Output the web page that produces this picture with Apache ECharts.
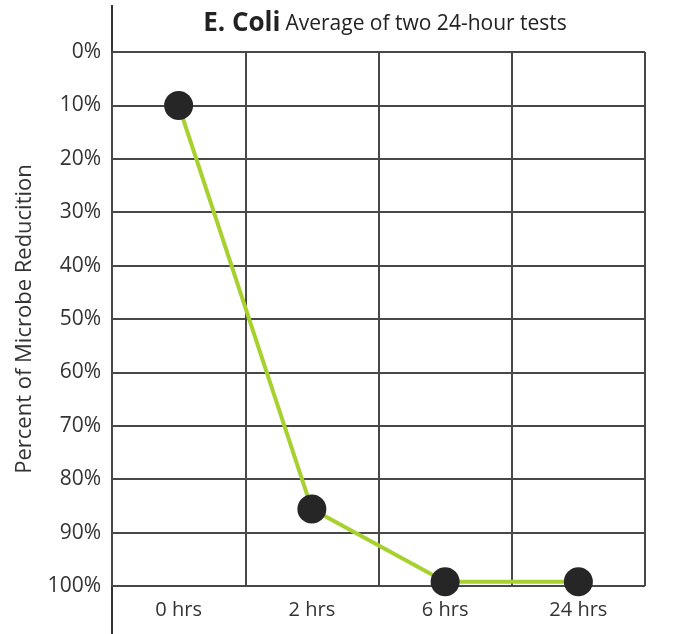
<!DOCTYPE html>
<html><head><meta charset="utf-8">
<script src="https://cdn.jsdelivr.net/npm/echarts@6/dist/echarts.min.js"></script>
<style>html,body{margin:0;padding:0;background:#fff}#c{width:683px;height:634px}</style>
</head><body><div id="c"></div>
<script>
const categories = ['0 hrs', '2 hrs', '6 hrs', '24 hrs'];
const reduction = [10, 85.6, 99.2, 99.2];
const yTicks = [0, 10, 20, 30, 40, 50, 60, 70, 80, 90, 100];
const titleMain = 'E. Coli';
const titleSub = 'Average of two 24-hour tests';
const yName = 'Percent of Microbe Reducition';

const chart = echarts.init(document.getElementById('c'));
const font = '"Open Sans", sans-serif';
chart.setOption({
  animation: false,
  title: {
    text: '{a|' + titleMain + '} {b|' + titleSub + '}',
    left: 380, top: 6, textAlign: 'center',
    textStyle: {
      fontWeight: 'normal',
      rich: {
        a: {fontFamily: font, fontWeight: 'bold', fontSize: 26, color: '#222'},
        b: {fontFamily: font, fontWeight: 'normal', fontSize: 21, color: '#222'}
      }
    }
  },
  grid: {left: 112, right: 38, top: 52, bottom: 48},
  xAxis: {
    type: 'category', data: categories, boundaryGap: true,
    axisLine: {show: false}, axisTick: {show: false},
    axisLabel: {fontFamily: font, fontSize: 20, color: '#333', margin: 14},
    splitLine: {show: true, lineStyle: {color: '#484848', width: 2}}
  },
  yAxis: {
    type: 'value', inverse: true, min: 0, max: 100, interval: 10,
    name: yName, nameLocation: 'middle', nameGap: 76,
    nameTextStyle: {fontFamily: font, fontSize: 22, color: '#333'},
    axisLine: {show: false}, axisTick: {show: false},
    axisLabel: {fontFamily: font, fontSize: 21, color: '#333', margin: 11,
      formatter: v => yTicks.includes(v) ? v + '%' : ''},
    splitLine: {show: true, lineStyle: {color: '#484848', width: 2}}
  },
  graphic: [{type: 'line', shape: {x1: 112, y1: 5, x2: 112, y2: 634}, style: {stroke: '#333', lineWidth: 2}}],
  series: [{
    type: 'line', data: reduction,
    lineStyle: {color: '#a6d12e', width: 4},
    symbol: 'circle', symbolSize: 29,
    itemStyle: {color: '#262626', borderWidth: 0},
    z: 5
  }]
});
</script></body></html>
